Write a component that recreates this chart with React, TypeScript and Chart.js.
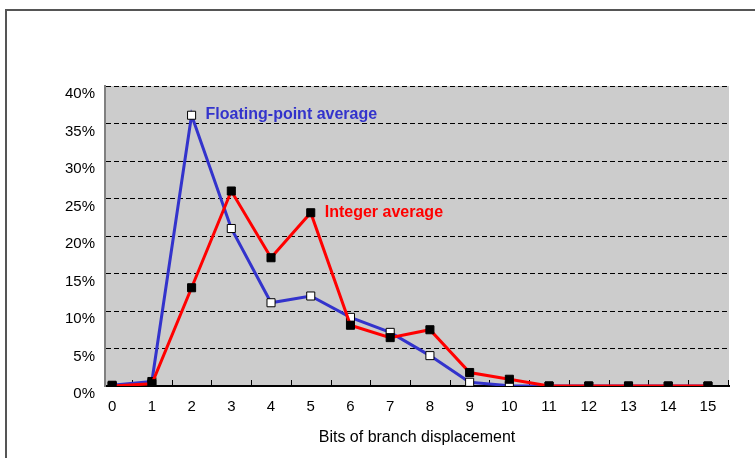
import React, { useEffect, useRef } from "react";
import { Chart, registerables } from "chart.js";

Chart.register(...registerables);

const categories = [0, 1, 2, 3, 4, 5, 6, 7, 8, 9, 10, 11, 12, 13, 14, 15];
const fpAverage = [0.1, 0.6, 36.1, 21.0, 11.1, 12.0, 9.15, 7.15, 4.05, 0.5, 0.05, 0, 0, 0, 0, 0];
const intAverage = [0, 0.3, 13.1, 26.0, 17.1, 23.1, 8.1, 6.45, 7.5, 1.8, 0.9, 0, 0, 0, 0, 0];
const yTickValues = [0, 5, 10, 15, 20, 25, 30, 35, 40];
const fpLabel = "Floating-point average";
const intLabel = "Integer average";
const xTitle = "Bits of branch displacement";

const FONT = "'Liberation Sans', Arial, sans-serif";
const BLUE = "#3333cc";
const RED = "#ff0000";

const plotPlugin = {
  id: "plotDecor",
  beforeDraw(chart: any) {
    const { ctx, chartArea } = chart;
    ctx.save();
    ctx.fillStyle = "#cccccc";
    ctx.fillRect(chartArea.left, chartArea.top, chartArea.right - chartArea.left, chartArea.bottom - chartArea.top);
    ctx.restore();
  },
  beforeDatasetsDraw(chart: any) {
    const { ctx, chartArea, scales } = chart;
    const xs = scales.x;
    ctx.save();
    ctx.strokeStyle = "#000000";
    ctx.lineWidth = 1;
    ctx.beginPath();
    for (let i = 0; i < categories.length; i++) {
      const px = Math.round(xs.getPixelForValue(categories[i] + 0.5)) + 0.5;
      ctx.moveTo(px, chartArea.bottom);
      ctx.lineTo(px, chartArea.bottom - 6);
    }
    ctx.stroke();
    ctx.restore();
  },
  afterDatasetsDraw(chart: any) {
    const { ctx, scales } = chart;
    const xs = scales.x;
    const ys = scales.y;
    ctx.save();
    ctx.font = "bold 16px " + FONT;
    ctx.textBaseline = "middle";
    ctx.textAlign = "left";
    ctx.fillStyle = BLUE;
    ctx.fillText(fpLabel, xs.getPixelForValue(categories[2]) + 14, ys.getPixelForValue(fpAverage[2]) - 1);
    ctx.fillStyle = RED;
    ctx.fillText(intLabel, xs.getPixelForValue(categories[5]) + 14, ys.getPixelForValue(intAverage[5]));
    ctx.restore();
  },
};

export default function App() {
  const canvasRef = useRef<HTMLCanvasElement | null>(null);

  useEffect(() => {
    if (!canvasRef.current) return;
    const fpBg = fpAverage.map((_, i) => (i < 2 ? "#000000" : "#ffffff"));
    const chart = new Chart(canvasRef.current, {
      type: "line",
      data: {
        datasets: [
          {
            label: intLabel,
            data: categories.map((c, i) => ({ x: c, y: intAverage[i] })),
            borderColor: RED,
            borderWidth: 3,
            pointStyle: "rect",
            pointRadius: 5.7,
            pointBackgroundColor: "#000000",
            pointBorderColor: "#000000",
            pointBorderWidth: 1,
            tension: 0,
            order: 0,
          },
          {
            label: fpLabel,
            data: categories.map((c, i) => ({ x: c, y: fpAverage[i] })),
            borderColor: BLUE,
            borderWidth: 3,
            pointStyle: "rect",
            pointRadius: 5.7,
            pointBackgroundColor: fpBg,
            pointBorderColor: "#000000",
            pointBorderWidth: 1,
            tension: 0,
            order: 1,
          },
        ],
      },
      options: {
        animation: false,
        responsive: true,
        maintainAspectRatio: false,
        layout: { padding: { top: 86, right: 26, left: 0, bottom: 0 } },
        plugins: { legend: { display: false }, tooltip: { enabled: false } },
        scales: {
          x: {
            type: "linear",
            min: -0.18,
            max: 15.53,
            afterFit(scale: any) {
              scale.height = 72;
            },
            afterBuildTicks(scale: any) {
              scale.ticks = categories.map((v) => ({ value: v }));
            },
            grid: { display: false },
            border: { display: true, color: "#000000", width: 2 },
            ticks: {
              color: "#000000",
              font: { family: FONT, size: 15 },
              padding: 4,
              maxRotation: 0,
              autoSkip: false,
              callback: (v: any) => String(v),
            },
            title: {
              display: true,
              text: xTitle,
              color: "#000000",
              font: { family: FONT, size: 16 },
              padding: { top: 0, bottom: 11 },
            },
          },
          y: {
            type: "linear",
            min: 0,
            max: 40,
            afterFit(scale: any) {
              scale.width = 105;
            },
            afterBuildTicks(scale: any) {
              scale.ticks = yTickValues.map((v) => ({ value: v }));
            },
            grid: { color: "#000000", lineWidth: 1, drawTicks: false },
            border: { display: true, color: "#808080", width: 2, dash: [5, 3] },
            ticks: {
              color: "#000000",
              font: { family: FONT, size: 15 },
              padding: 10,
              labelOffset: 8,
              callback: (v: any) => v + "%",
            },
          },
        },
      },
      plugins: [plotPlugin],
    });
    return () => chart.destroy();
  }, []);

  return (
    <div style={{ position: "fixed", left: 0, top: 0, width: 755, height: 458, background: "#ffffff", overflow: "hidden" }}>
      <div style={{ position: "absolute", left: 0, top: 0, width: 755, height: 458 }}>
        <canvas ref={canvasRef} />
      </div>
      <div
        style={{
          position: "absolute",
          left: 5,
          top: 9,
          width: 800,
          height: 500,
          border: "2px solid #555555",
          pointerEvents: "none",
        }}
      />
    </div>
  );
}
